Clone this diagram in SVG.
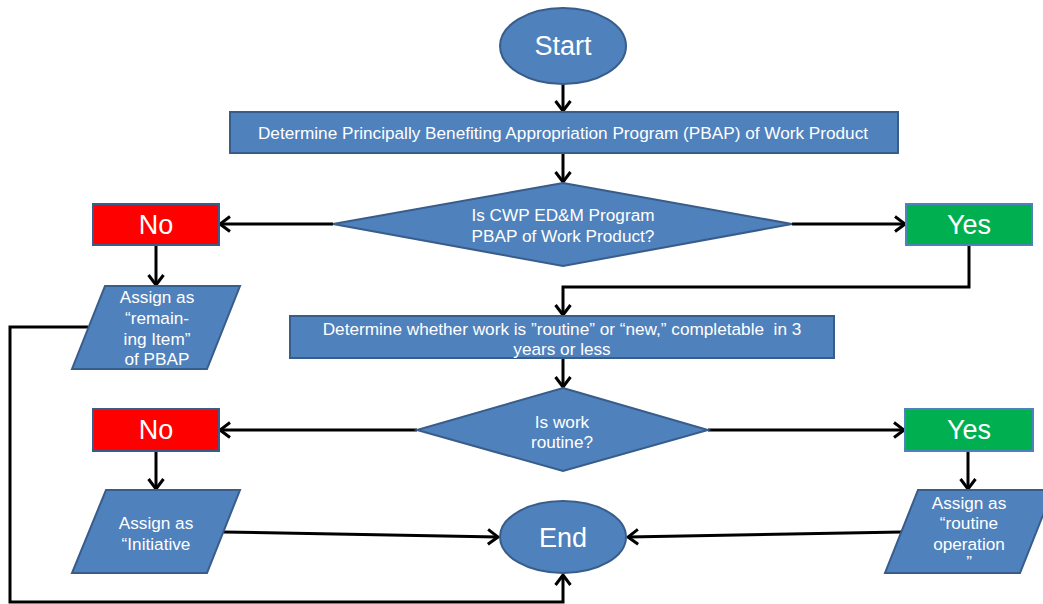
<svg xmlns="http://www.w3.org/2000/svg" width="1043" height="604" viewBox="0 0 1043 604">
<style>
.node{fill:#4F81BD;stroke:#385D8A;stroke-width:2}
.no{fill:#FF0000;stroke:#385D8A;stroke-width:2}
.yes{fill:#00B050;stroke:#4F81BD;stroke-width:2}
.t{font-family:"Liberation Sans",Arial,sans-serif;fill:#ffffff;text-anchor:middle;dominant-baseline:central}
.big{font-size:27px}
.sm{font-size:17.2px}
.conn{fill:none;stroke:#000;stroke-width:3}
</style>
<defs>
<marker id="arr" markerUnits="userSpaceOnUse" viewBox="0 0 14 18" markerWidth="14" markerHeight="18" refX="12" refY="9" orient="auto">
<path d="M2,1.5 L12,9 L2,16.5" fill="none" stroke="#000" stroke-width="3"/>
</marker>
</defs>
<g id="connectors">
<path class="conn" d="M563,84 L563,111" marker-end="url(#arr)"/>
<path class="conn" d="M563,153 L563,182" marker-end="url(#arr)"/>
<path class="conn" d="M333,224 L220,224" marker-end="url(#arr)"/>
<path class="conn" d="M792,224 L905,224" marker-end="url(#arr)"/>
<path class="conn" d="M156,245 L156,285" marker-end="url(#arr)"/>
<path class="conn" d="M969,245 L969,287 L563,287 L563,315" marker-end="url(#arr)"/>
<path class="conn" d="M563,359 L563,387" marker-end="url(#arr)"/>
<path class="conn" d="M417,430 L220,430" marker-end="url(#arr)"/>
<path class="conn" d="M708,430 L904,430" marker-end="url(#arr)"/>
<path class="conn" d="M156,451 L156,489" marker-end="url(#arr)"/>
<path class="conn" d="M968,451 L968,489" marker-end="url(#arr)"/>
<path class="conn" d="M223,532 L498,537" marker-end="url(#arr)"/>
<path class="conn" d="M902,532 L628,537" marker-end="url(#arr)"/>
<path class="conn" d="M88,327 L10,327 L10,602 L563,602 L563,575" marker-end="url(#arr)"/>
</g>
<g id="start">
<ellipse class="node" cx="563" cy="46" rx="63" ry="38"/>
<text class="t big" x="563" y="46">Start</text>
</g>
<g id="determine-pbap">
<rect class="node" x="230" y="112" width="668" height="41"/>
<text class="t sm" x="563" y="133">Determine Principally Benefiting Appropriation Program (PBAP) of Work Product</text>
</g>
<g id="decision-cwp">
<polygon class="node" points="563,183 792,224 563,266 333,224"/>
<text class="t sm"><tspan x="563" y="215">Is CWP ED&amp;M Program</tspan><tspan x="563" y="236">PBAP of Work Product?</tspan></text>
</g>
<g id="no1">
<rect class="no" x="93" y="204" width="126" height="41"/>
<text class="t big" x="156" y="225">No</text>
</g>
<g id="yes1">
<rect class="yes" x="906" y="204" width="126" height="41"/>
<text class="t big" x="969" y="225">Yes</text>
</g>
<g id="assign-remaining">
<polygon class="node" points="105,286 240,286 207,369 72,369"/>
<text class="t sm"><tspan x="157" y="297">Assign as</tspan><tspan x="157" y="318">“remain-</tspan><tspan x="157" y="339">ing Item”</tspan><tspan x="157" y="359">of PBAP</tspan></text>
</g>
<g id="determine-routine">
<rect class="node" x="290" y="316" width="544" height="42"/>
<text class="t sm"><tspan x="562" y="329">Determine whether work is ”routine” or “new,” completable&#160; in 3</tspan><tspan x="562" y="349">years or less</tspan></text>
</g>
<g id="decision-routine">
<polygon class="node" points="563,388 708,430 563,471 417,430"/>
<text class="t sm"><tspan x="562" y="422">Is work</tspan><tspan x="562" y="442">routine?</tspan></text>
</g>
<g id="no2">
<rect class="no" x="93" y="409" width="126" height="42"/>
<text class="t big" x="156" y="430">No</text>
</g>
<g id="yes2">
<rect class="yes" x="905" y="409" width="128" height="42"/>
<text class="t big" x="969" y="430">Yes</text>
</g>
<g id="assign-initiative">
<polygon class="node" points="106,490 240,490 207,573 72,573"/>
<text class="t sm"><tspan x="156" y="523">Assign as</tspan><tspan x="156" y="544">“Initiative</tspan></text>
</g>
<g id="assign-routine">
<polygon class="node" points="918,490 1053,490 1020,573 885,573"/>
<text class="t sm"><tspan x="969" y="503">Assign as</tspan><tspan x="969" y="523">“routine</tspan><tspan x="969" y="544">operation</tspan><tspan x="969" y="562">”</tspan></text>
</g>
<g id="end">
<ellipse class="node" cx="563" cy="537" rx="63" ry="36"/>
<text class="t big" x="563" y="538">End</text>
</g>
</svg>
